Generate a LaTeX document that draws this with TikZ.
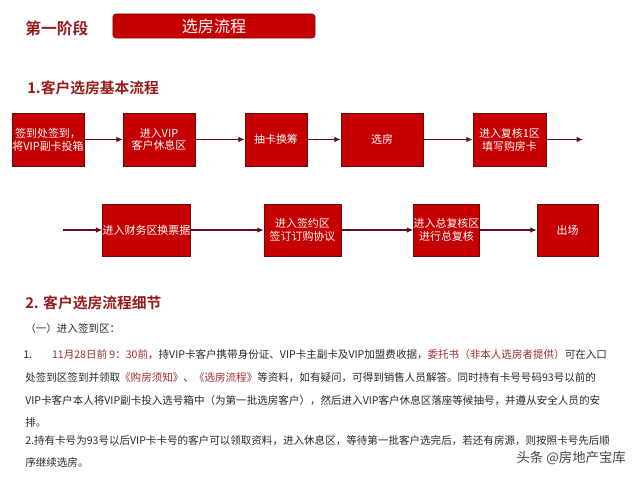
\documentclass[tikz,border=0pt]{standalone}
\usepackage{fontspec}
\setmainfont{Noto Sans CJK SC}[BoldFont={Noto Sans CJK SC Bold}]
\usetikzlibrary{arrows.meta}
\usepackage{xcolor}
\definecolor{boxred}{RGB}{198,0,0}
\definecolor{boxedge}{RGB}{110,10,10}
\definecolor{arrowred}{RGB}{90,18,18}
\definecolor{titlered}{RGB}{150,28,28}
\definecolor{bodytext}{RGB}{40,40,40}
\definecolor{markred}{RGB}{160,42,42}
\definecolor{wmark}{RGB}{70,70,70}

\begin{document}
\begin{tikzpicture}[x=0.025cm, y=-0.025cm,
   every node/.style={inner sep=0pt},
   stage/.style={draw=boxedge, fill=boxred, text=white, align=center,
      font=\fontsize{7.8}{9.2}\selectfont, minimum height=1.32cm},
   flow/.style={-{Latex[length=1.6mm, width=1.4mm]}, arrowred, line width=1.1pt},
   heading/.style={anchor=west, text=titlered, font=\bfseries\fontsize{10.5}{12}\selectfont},
   body/.style={anchor=west, text=bodytext, font=\fontsize{7.5}{9}\selectfont}]

  \useasboundingbox (0,0) rectangle (640,480);

  % page title
  \node[anchor=west, text=titlered, font=\bfseries\fontsize{11.2}{13}\selectfont]
       (phase) at (25,28) {第一阶段};
  \node[draw=boxedge, fill=boxred, rounded corners=2pt, text=white,
        minimum width=5.05cm, minimum height=0.6cm,
        font=\fontsize{11.4}{13}\selectfont] (banner) at (214,26) {选房流程};

  % 1. basic flow
  \node[heading] (head1) at (27,88) {1.客户选房基本流程};

  \node[stage, minimum width=1.8cm]   (s1) at (48,139.5)  {签到处签到，\\将VIP副卡投箱};
  \node[stage, minimum width=1.8cm]   (s2) at (159,139.5) {进入VIP\\客户休息区};
  \node[stage, minimum width=1.55cm]  (s3) at (276,139.5) {抽卡换筹};
  \node[stage, minimum width=2.05cm]  (s4) at (382,139.5) {选房};
  \node[stage, minimum width=1.825cm] (s5) at (509.5,139.5) {进入复核1区\\填写购房卡};
  \coordinate (s5out) at (583,139.5);

  \coordinate (s6in) at (63,230);
  \node[stage, minimum width=2.175cm, minimum height=1.3cm] (s6) at (146.5,230) {进入财务区换票据};
  \node[stage, minimum width=1.925cm, minimum height=1.3cm] (s7) at (302.5,230) {进入签约区\\签订订购协议};
  \node[stage, minimum width=1.525cm, minimum height=1.3cm] (s8) at (446.5,230) {进入总复核区\\进行总复核};
  \node[stage, minimum width=1.525cm, minimum height=1.3cm] (s9) at (567.5,230) {出场};

  \draw[flow] (s1) -- (s2);
  \draw[flow] (s2) -- (s3);
  \draw[flow] (s3) -- (s4);
  \draw[flow] (s4) -- (s5);
  \draw[flow] (s5) -- (s5out);
  \draw[flow] (s6in) -- (s6);
  \draw[flow] (s6) -- (s7);
  \draw[flow] (s7) -- (s8);
  \draw[flow] (s8) -- (s9);

  % 2. details
  \node[heading] (head2) at (25,303) {2. 客户选房流程细节};
  \node[body] (t0) at (25,328) {（一）进入签到区：};
  \node[body] (t1) at (23,355) {1.\hspace*{5mm}\textcolor{markred}{11月28日前 9：30前}，持VIP卡客户携带身份证、VIP卡主副卡及VIP加盟费收据，\textcolor{markred}{委托书（非本人选房者提供）}可在入口};
  \node[body] (t2) at (25,378) {处签到区签到并领取\textcolor{markred}{《购房须知》}、\textcolor{markred}{《选房流程》}等资料，如有疑问，可得到销售人员解答。同时持有卡号号码93号以前的};
  \node[body] (t3) at (25,401) {VIP卡客户本人将VIP副卡投入选号箱中（为第一批选房客户），然后进入VIP客户休息区落座等候抽号，并遵从安全人员的安};
  \node[body] (t4) at (25,422) {排。};
  \node[body] (t5) at (25,441) {2.持有卡号为93号以后VIP卡卡号的客户可以领取资料，进入休息区，等待第一批客户选完后，若还有房源，则按照卡号先后顺};
  \node[body] (t6) at (25,462) {序继续选房。};

  \node[anchor=east, text=wmark, font=\fontsize{9.5}{11}\selectfont] (mark) at (626,458) {头条 @房地产宝库};
\end{tikzpicture}
\end{document}
